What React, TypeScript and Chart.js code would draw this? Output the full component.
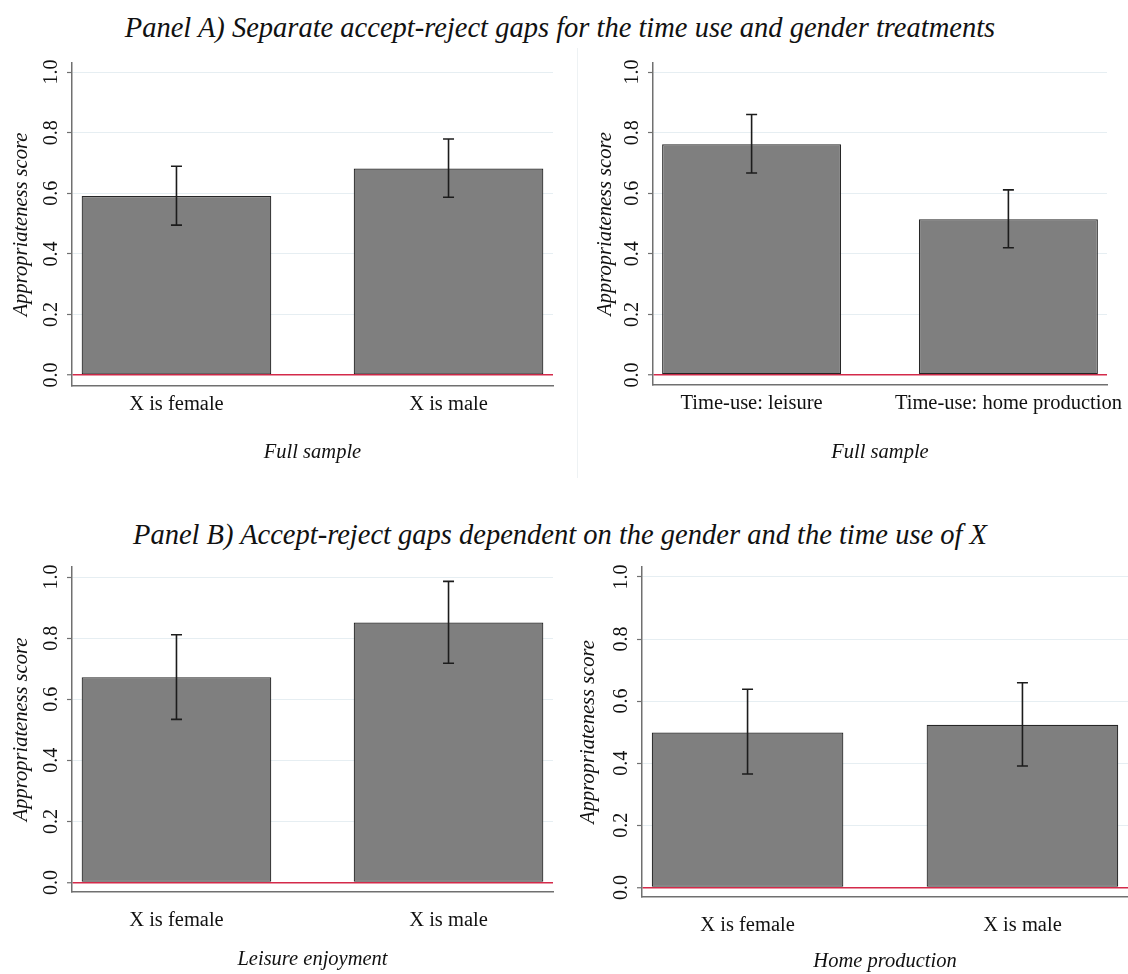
import React, { useEffect, useRef } from 'react';
import { Chart, registerables } from 'chart.js';

Chart.register(...registerables);
Chart.defaults.font.family = "'Liberation Serif', 'Times New Roman', serif";

// ---- data ----
const yTickValues = [0, 0.2, 0.4, 0.6, 0.8, 1.0];
const genderLabels = ['X is female', 'X is male'];
const timeUseLabels = ['Time-use: leisure', 'Time-use: home production'];

const a1Values = [0.591, 0.682];
const a1Low = [0.495, 0.587];
const a1High = [0.689, 0.779];

const a2Values = [0.762, 0.514];
const a2Low = [0.667, 0.42];
const a2High = [0.86, 0.611];

const b1Values = [0.672, 0.851];
const b1Low = [0.534, 0.718];
const b1High = [0.811, 0.986];

const b2Values = [0.499, 0.524];
const b2Low = [0.365, 0.391];
const b2High = [0.638, 0.659];

const panelATitle = 'Panel A) Separate accept-reject gaps for the time use and gender treatments';
const panelBTitle = 'Panel B) Accept-reject gaps dependent on the gender and the time use of X';
const yTitle = 'Appropriateness score';

// ---- layout ----
const panels = [
  { key: 'a1', labels: genderLabels, values: a1Values, low: a1Low, high: a1High, xTitle: 'Full sample',
    left: 0, top: 50, w: 565, h: 420, yAxisWidth: 72, padTop: 13, padRight: 12, xAxisHeight: 84,
    yMin: -0.036, yMax: 1.03, yTitlePad: 9, yTickPad: 3, xTickPad: 6, xTitlePad: 5 },
  { key: 'a2', labels: timeUseLabels, values: a2Values, low: a2Low, high: a2High, xTitle: 'Full sample',
    left: 578, top: 50, w: 550, h: 420, yAxisWidth: 75, padTop: 13, padRight: 21, xAxisHeight: 85,
    yMin: -0.033, yMax: 1.03, yTitlePad: 15, yTickPad: 3, xTickPad: 6, xTitlePad: 5 },
  { key: 'b1', labels: genderLabels, values: b1Values, low: b1Low, high: b1High, xTitle: 'Leisure enjoyment',
    left: 0, top: 555, w: 565, h: 419, yAxisWidth: 72, padTop: 12, padRight: 12, xAxisHeight: 82,
    yMin: -0.031, yMax: 1.033, yTitlePad: 9, yTickPad: 3, xTickPad: 16, xTitlePad: 2 },
  { key: 'b2', labels: genderLabels, values: b2Values, low: b2Low, high: b2High, xTitle: 'Home production',
    left: 570, top: 555, w: 558, h: 419, yAxisWidth: 72, padTop: 12, padRight: 0, xAxisHeight: 77,
    yMin: -0.031, yMax: 1.032, yTitlePad: 6, yTickPad: 3, xTickPad: 16, xTitlePad: 0 },
];

const SIDE = 0.384;

const errorBarPlugin = {
  id: 'errorBars',
  afterDatasetsDraw(chart: any, _args: any, opts: any) {
    const { ctx, scales } = chart;
    const xs = scales.x;
    const ys = scales.y;
    ctx.save();
    ctx.strokeStyle = '#1c1c1c';
    ctx.lineWidth = 1.6;
    const cap = 5.5;
    (opts.low || []).forEach((lo: number, i: number) => {
      const hi = opts.high[i];
      const x = xs.getPixelForValue(i + 1);
      const yl = ys.getPixelForValue(lo);
      const yh = ys.getPixelForValue(hi);
      ctx.beginPath();
      ctx.moveTo(x, yl);
      ctx.lineTo(x, yh);
      ctx.moveTo(x - cap, yl);
      ctx.lineTo(x + cap, yl);
      ctx.moveTo(x - cap, yh);
      ctx.lineTo(x + cap, yh);
      ctx.stroke();
    });
    ctx.restore();
  },
};

function BarPanel({ cfg }: { cfg: any }) {
  const ref = useRef<HTMLCanvasElement | null>(null);
  useEffect(() => {
    if (!ref.current) return;
    const chart = new Chart(ref.current, {
      type: 'bar',
      data: {
        datasets: [
          {
            data: cfg.values.map((v: number, i: number) => ({ x: i + 1, y: v })),
            backgroundColor: '#7f7f7f',
            borderColor: '#262626',
            borderWidth: 1.2,
            borderSkipped: false,
            categoryPercentage: 0.697,
            barPercentage: 1,
          } as any,
        ],
      },
      options: {
        responsive: false,
        animation: false,
        layout: { padding: { left: 0, top: cfg.padTop, right: cfg.padRight, bottom: 0 } },
        plugins: {
          legend: { display: false },
          tooltip: { enabled: false },
          errorBars: { low: cfg.low, high: cfg.high },
        } as any,
        scales: {
          x: {
            type: 'linear',
            offset: false,
            min: 1 - SIDE,
            max: cfg.labels.length + SIDE,
            afterBuildTicks: (s: any) => {
              s.ticks = cfg.labels.map((_: string, i: number) => ({ value: i + 1 }));
            },
            afterFit: (s: any) => {
              s.height = cfg.xAxisHeight;
              s.paddingLeft = 0;
              s.paddingRight = 0;
            },
            ticks: {
              callback: (v: any) => cfg.labels[Math.round(Number(v)) - 1],
              autoSkip: false,
              maxRotation: 0,
              minRotation: 0,
              padding: cfg.xTickPad,
              font: { size: 20.5 },
              color: '#111111',
            },
            grid: { display: false, drawTicks: false },
            border: { display: true, color: '#707070', width: 1.5 },
            title: {
              display: true,
              text: cfg.xTitle,
              font: { size: 20.5, style: 'italic' },
              color: '#111111',
              padding: { top: 0, bottom: cfg.xTitlePad },
            },
          } as any,
          y: {
            type: 'linear',
            min: cfg.yMin,
            max: cfg.yMax,
            afterBuildTicks: (s: any) => {
              s.ticks = yTickValues.map((v) => ({ value: v }));
            },
            afterFit: (s: any) => {
              s.width = cfg.yAxisWidth;
              s.paddingTop = 0;
              s.paddingBottom = 0;
            },
            ticks: {
              callback: (v: any) => Number(v).toFixed(1),
              minRotation: 90,
              maxRotation: 90,
              crossAlign: 'center',
              padding: cfg.yTickPad,
              font: { size: 20 },
              color: '#111111',
            },
            grid: {
              color: (c: any) => (c.tick && c.tick.value === 0 ? '#d42a4a' : '#e6eef2'),
              lineWidth: (c: any) => (c.tick && c.tick.value === 0 ? 1.5 : 1),
              tickLength: 5,
              tickColor: '#707070',
              tickWidth: 1.2,
            },
            border: { display: true, color: '#707070', width: 1.5 },
            title: {
              display: true,
              text: yTitle,
              font: { size: 20.5, style: 'italic' },
              color: '#111111',
              padding: { top: cfg.yTitlePad, bottom: 0 },
            },
          } as any,
        },
      },
      plugins: [errorBarPlugin],
    } as any);
    return () => chart.destroy();
  }, [cfg]);
  return (
    <canvas
      ref={ref}
      width={cfg.w}
      height={cfg.h}
      style={{ position: 'absolute', left: cfg.left, top: cfg.top, width: cfg.w, height: cfg.h }}
    />
  );
}

const titleStyle: React.CSSProperties = {
  position: 'absolute',
  left: 0,
  width: 1120,
  textAlign: 'center',
  fontFamily: "'Liberation Serif', 'Times New Roman', serif",
  fontStyle: 'italic',
  fontSize: 28.5,
  lineHeight: '32px',
  color: '#111111',
  whiteSpace: 'nowrap',
};

export default function App() {
  return (
    <div style={{ position: 'absolute', left: 0, top: 0, width: 1128, height: 974, background: '#ffffff', overflow: 'hidden' }}>
      <div style={{ ...titleStyle, top: 12 }}>{panelATitle}</div>
      <div style={{ ...titleStyle, top: 519 }}>{panelBTitle}</div>
      <div style={{ position: 'absolute', left: 577, top: 48, width: 1, height: 430, background: '#eef2f4' }} />
      {panels.map((p) => (
        <BarPanel key={p.key} cfg={p} />
      ))}
    </div>
  );
}
